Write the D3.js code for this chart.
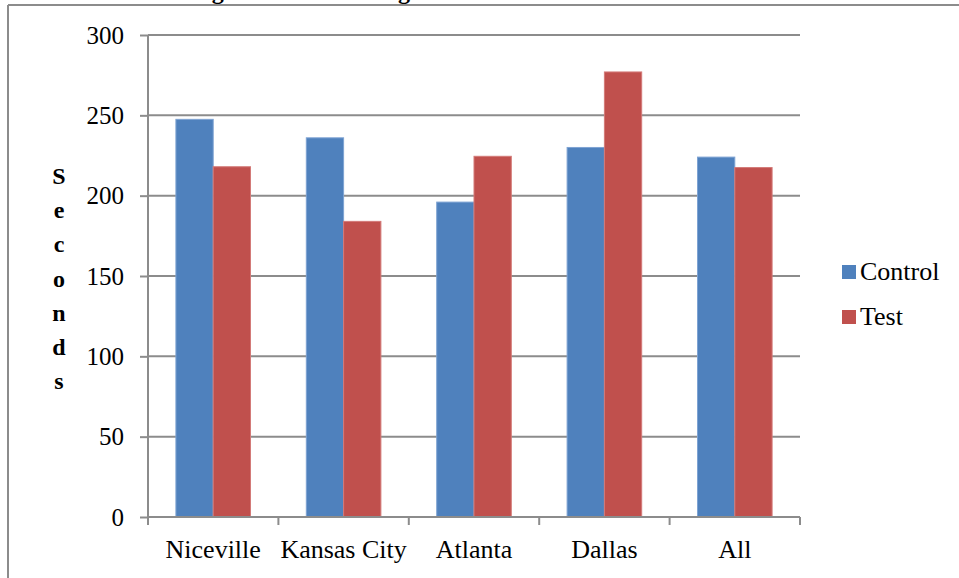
<!DOCTYPE html>
<html><head><meta charset="utf-8">
<script src="https://cdn.jsdelivr.net/npm/d3@7"></script>
<style>html,body{margin:0;padding:0;background:#fff;}svg{display:block;} svg text{font-family:"Liberation Serif","Times New Roman",Times,serif;}</style>
</head><body>
<svg id="chart" width="959" height="578"></svg>
<script>
const categories = ["Niceville", "Kansas City", "Atlanta", "Dallas", "All"];
const seriesNames = ["Control", "Test"];
const controlValues = [247.5, 236, 196, 230, 224];
const testValues = [218, 184, 224.5, 277, 217.5];
const yTicks = [0, 50, 100, 150, 200, 250, 300];
const colors = ["#4F81BD", "#C0504D"];
const titleText = "Average Seconds Waiting";
const yLabel = "Seconds";

(function () {
const svg = d3.select("#chart");
const gridColor = "#8c8c8c";

// outer frame
svg.append("line").attr("x1", 8).attr("x2", 8).attr("y1", 5).attr("y2", 578).attr("stroke", gridColor).attr("stroke-width", 2);
svg.append("line").attr("x1", 8).attr("x2", 959).attr("y1", 5).attr("y2", 5).attr("stroke", gridColor).attr("stroke-width", 2);

// clipped title (only descenders visible, as in the reference)
svg.append("text").attr("x", 151).attr("y", -1).attr("font-weight", "bold")
  .style("font-size", "24px").text(titleText);

const pLeft = 148, pRight = 800, pTop = 35, pBottom = 517;
const y = d3.scaleLinear().domain([0, 300]).range([pBottom, pTop]);
const x0 = d3.scaleBand().domain(categories).range([pLeft, pRight]).paddingInner(0.428).paddingOuter(0.214);
const x1 = d3.scaleBand().domain(seriesNames).range([0, x0.bandwidth()]);

// gridlines
svg.append("g").selectAll("line").data(yTicks.filter(d => d > 0)).join("line")
  .attr("x1", pLeft).attr("x2", pRight).attr("y1", d => y(d)).attr("y2", d => y(d))
  .attr("stroke", gridColor).attr("stroke-width", 2);

// bars
const data = categories.map((c, i) => ({cat: c, vals: [controlValues[i], testValues[i]]}));
const groups = svg.append("g").selectAll("g").data(data).join("g")
  .attr("transform", d => `translate(${x0(d.cat)},0)`);
groups.selectAll("rect").data(d => d.vals.map((v, j) => ({s: seriesNames[j], v, j}))).join("rect")
  .attr("x", d => x1(d.s)).attr("width", x1.bandwidth())
  .attr("y", d => y(d.v)).attr("height", d => y(0) - y(d.v))
  .attr("fill", d => colors[d.j])
  .attr("stroke", d => d.j === 0 ? "#7ea3d3" : "#d37a78").attr("stroke-width", 1);

// y axis
const yAxis = d3.axisLeft(y).tickValues(yTicks).tickSize(8).tickPadding(16);
const ya = svg.append("g").attr("transform", `translate(${pLeft},0)`).call(yAxis);
ya.attr("font-family", null);
ya.select(".domain").attr("stroke", gridColor).attr("stroke-width", 2).attr("d", `M0,${pTop}V${pBottom}`);
ya.selectAll(".tick line").attr("stroke", gridColor).attr("stroke-width", 2);
ya.selectAll(".tick text").style("font-size", "25px").attr("fill", "#000");

// x axis
const xa = svg.append("g").attr("transform", `translate(0,${pBottom})`);
xa.append("line").attr("x1", pLeft).attr("x2", pRight).attr("stroke", gridColor).attr("stroke-width", 2);
const step = x0.step();
const tickXs = d3.range(categories.length + 1).map(i => pLeft + i * step);
xa.selectAll("line.t").data(tickXs).join("line").attr("class", "t")
  .attr("x1", d => d).attr("x2", d => d).attr("y1", 0).attr("y2", 8)
  .attr("stroke", gridColor).attr("stroke-width", 2);
xa.selectAll("text").data(categories).join("text")
  .attr("x", d => x0(d) + x0.bandwidth() / 2).attr("y", 41)
  .attr("text-anchor", "middle").style("font-size", "26px").text(d => d);

// y label stacked letters
svg.append("g").selectAll("text").data(yLabel.split("")).join("text")
  .attr("x", 59).attr("y", (d, i) => 184 + i * 34.2)
  .attr("text-anchor", "middle").attr("font-weight", "bold")
  .style("font-size", "24px").text(d => d);

// legend
const legend = svg.append("g").selectAll("g").data(seriesNames).join("g")
  .attr("transform", (d, i) => `translate(842,${265 + i * 45})`);
legend.append("rect").attr("width", 14).attr("height", 14).attr("fill", (d, i) => colors[i]);
legend.append("text").attr("x", 18).attr("y", 15).style("font-size", "26px").text(d => d);
})();
</script>
</body></html>
